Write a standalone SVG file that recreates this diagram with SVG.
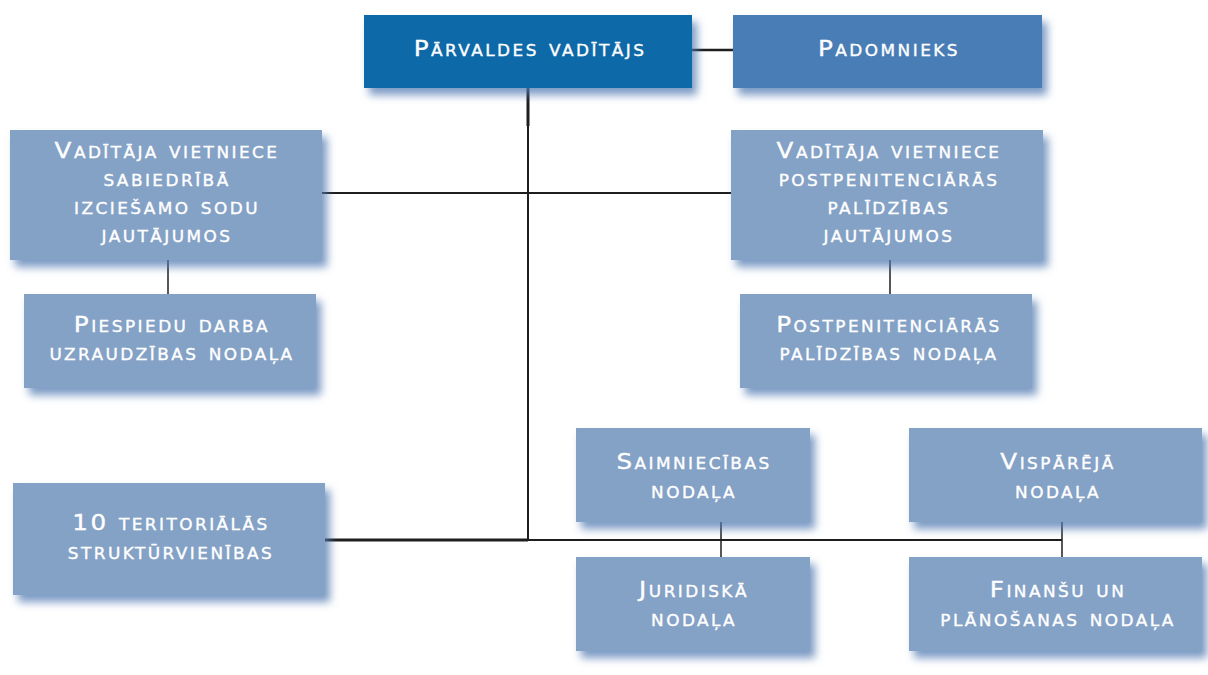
<svg xmlns="http://www.w3.org/2000/svg" width="1208" height="675" viewBox="0 0 1208 675">
<style>
.box{fill:#84a1c6;filter:url(#sh)}
.t{font-family:"DejaVu Sans","Liberation Sans",Arial,sans-serif;font-size:22px;font-variant:small-caps;letter-spacing:2.2px;fill:#ffffff;stroke:#ffffff;stroke-width:0.35px;text-anchor:middle}
.c{stroke:#1e1e1e;fill:none}
</style>
<defs>
<filter id="sh" x="-10%" y="-20%" width="125%" height="150%">
<feDropShadow dx="5" dy="7" stdDeviation="4.5" flood-color="#4f78b0" flood-opacity="0.75"/>
</filter>
</defs>
<rect width="1208" height="675" fill="#ffffff"/>
<g id="connectors">
<line class="c" x1="692" y1="50" x2="733" y2="50" stroke-width="2.5"/>
<line class="c" x1="528" y1="88" x2="528" y2="126" stroke-width="3"/>
<line class="c" x1="528" y1="126" x2="528" y2="541" stroke-width="2"/>
<line class="c" x1="322" y1="193" x2="731" y2="193" stroke-width="2"/>
<line class="c" x1="168" y1="260" x2="168" y2="294" stroke-width="1.5"/>
<line class="c" x1="890" y1="260" x2="890" y2="294" stroke-width="1.5"/>
<line class="c" x1="325" y1="540" x2="528" y2="540" stroke-width="3"/>
<line class="c" x1="528" y1="540" x2="1062" y2="540" stroke-width="1.8"/>
<line class="c" x1="721" y1="522" x2="721" y2="557" stroke-width="1.5"/>
<line class="c" x1="1062" y1="522" x2="1062" y2="557" stroke-width="1.5"/>
</g>
<g id="n-parvaldes">
<rect x="364" y="15" width="328" height="73" fill="#1069a8" filter="url(#sh)"/>
<text class="t" transform="translate(530,56) scale(1.12,1)">Pārvaldes vadītājs</text>
</g>
<g id="n-padomnieks">
<rect x="733" y="15" width="309" height="73" fill="#4a7db5" filter="url(#sh)"/>
<text class="t" transform="translate(889,56) scale(1.12,1)">Padomnieks</text>
</g>
<g id="n-vietniece-sab">
<rect class="box" x="10" y="130" width="312" height="130"/>
<text class="t" transform="translate(167,158) scale(1.12,1)">Vadītāja vietniece</text>
<text class="t" transform="translate(167,186) scale(1.12,1)">sabiedrībā</text>
<text class="t" transform="translate(167,214) scale(1.12,1)">izciešamo sodu</text>
<text class="t" transform="translate(167,242) scale(1.12,1)">jautājumos</text>
</g>
<g id="n-vietniece-post">
<rect class="box" x="731" y="130" width="312" height="130"/>
<text class="t" transform="translate(889,158) scale(1.12,1)">Vadītāja vietniece</text>
<text class="t" transform="translate(889,186) scale(1.12,1)">postpenitenciārās</text>
<text class="t" transform="translate(889,214) scale(1.12,1)">palīdzības</text>
<text class="t" transform="translate(889,242) scale(1.12,1)">jautājumos</text>
</g>
<g id="n-piespiedu">
<rect class="box" x="24" y="294" width="292" height="94"/>
<text class="t" transform="translate(172,332) scale(1.12,1)">Piespiedu darba</text>
<text class="t" transform="translate(172,360) scale(1.12,1)">uzraudzības nodaļa</text>
</g>
<g id="n-postpen">
<rect class="box" x="740" y="294" width="292" height="94"/>
<text class="t" transform="translate(889,332) scale(1.12,1)">Postpenitenciārās</text>
<text class="t" transform="translate(889,360) scale(1.12,1)">palīdzības nodaļa</text>
</g>
<g id="n-saimniecibas">
<rect class="box" x="576" y="428" width="234" height="94"/>
<text class="t" transform="translate(694,469) scale(1.12,1)">Saimniecības</text>
<text class="t" transform="translate(694,498) scale(1.12,1)">nodaļa</text>
</g>
<g id="n-visparejaa">
<rect class="box" x="909" y="428" width="293" height="94"/>
<text class="t" transform="translate(1058,469) scale(1.12,1)">Vispārējā</text>
<text class="t" transform="translate(1058,498) scale(1.12,1)">nodaļa</text>
</g>
<g id="n-juridiska">
<rect class="box" x="576" y="557" width="234" height="94"/>
<text class="t" transform="translate(694,597) scale(1.12,1)">Juridiskā</text>
<text class="t" transform="translate(694,626) scale(1.12,1)">nodaļa</text>
</g>
<g id="n-finansu">
<rect class="box" x="909" y="557" width="293" height="94"/>
<text class="t" transform="translate(1058,597) scale(1.12,1)">Finanšu un</text>
<text class="t" transform="translate(1058,626) scale(1.12,1)">plānošanas nodaļa</text>
</g>
<g id="n-teritorialas">
<rect class="box" x="13" y="483" width="312" height="112"/>
<text class="t" transform="translate(171,530) scale(1.12,1)">10 teritoriālās</text>
<text class="t" transform="translate(171,559) scale(1.12,1)">struktūrvienības</text>
</g>
</svg>
